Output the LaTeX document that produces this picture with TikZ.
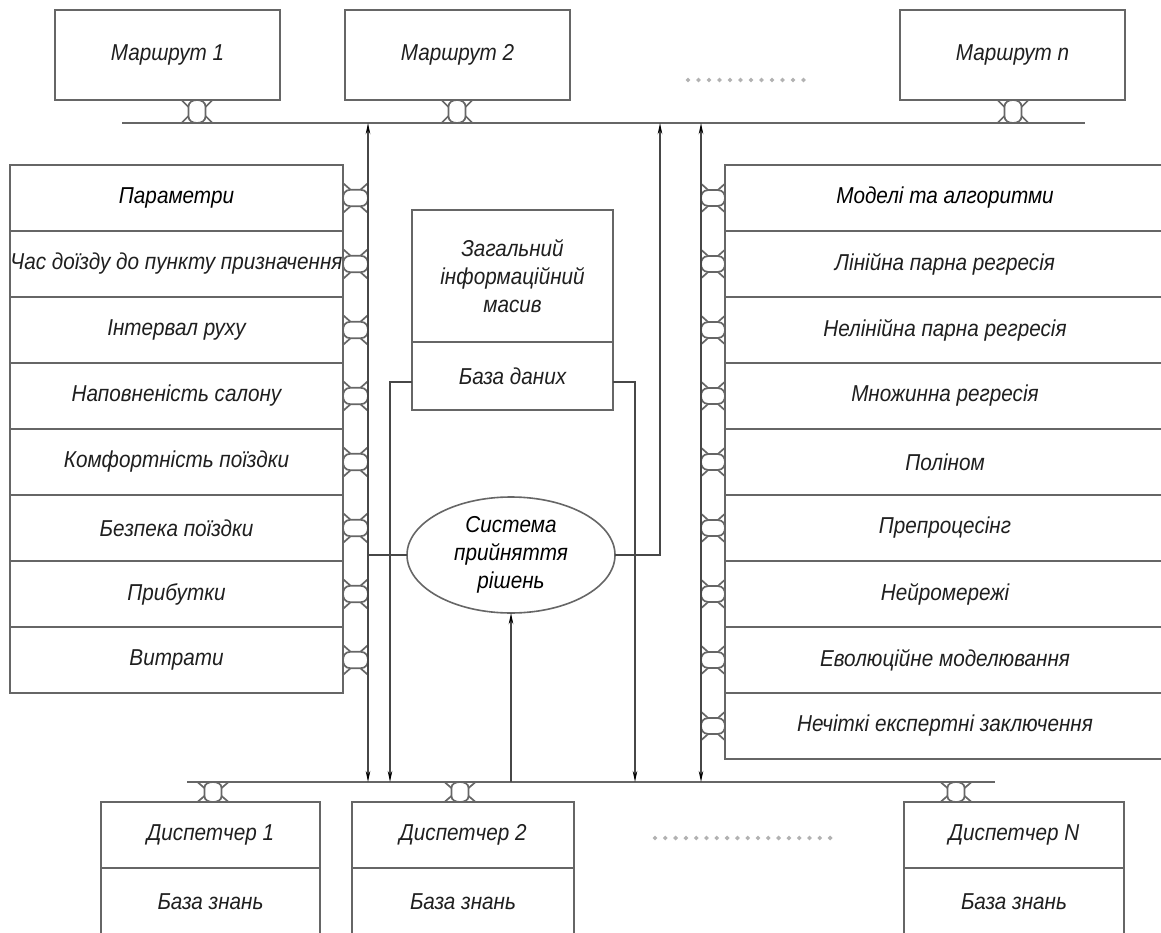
\documentclass[tikz,border=0pt]{standalone}
\usepackage{fontspec}
\setmainfont{Liberation Sans}[FakeStretch=0.9]
\usetikzlibrary{arrows.meta,positioning,shapes.geometric}
\tikzset{
  joint/.pic={
    \draw (-0.4,-0.66) -- (0.4,-0.66) .. controls (0.85,-0.66) and (1,-0.3) .. (1,0)
      .. controls (1,0.3) and (0.85,0.66) .. (0.4,0.66) -- (-0.4,0.66)
      .. controls (-0.85,0.66) and (-1,0.3) .. (-1,0) .. controls (-1,-0.3) and (-0.85,-0.66) .. (-0.4,-0.66);
    \draw (-0.4,-0.66) -- (-0.95,-1.15) (0.4,-0.66) -- (0.95,-1.15) (-0.4,0.66) -- (-0.95,1.15) (0.4,0.66) -- (0.95,1.15);
  }
}
\begin{document}
\begin{tikzpicture}[x=1pt,y=-1pt,
    font=\fontsize{23}{28}\selectfont\itshape,
    box/.style={draw=black!60,line width=2.4pt,text=black!88,inner sep=0pt,outer sep=0pt,align=center},
    bus/.style={draw=black!60,line width=2.4pt},
    sig/.style={draw=black!72,line width=1.6pt},
    tip/.style={-{Stealth[length=11pt,width=4.5pt,black]}},
    link/.style={draw=black!60,line width=1.7pt},
    dot/.style={diamond,fill=black!30,inner sep=0pt,minimum size=5pt}]
  \useasboundingbox (0,0) rectangle (1161,933);
  \node[box,minimum width=225pt,minimum height=90pt] (r1) at (167.5,55) {Маршрут 1};
  \node[box,minimum width=225pt,minimum height=90pt] (r2) at (457.5,55) {Маршрут 2};
  \node[box,minimum width=225pt,minimum height=90pt] (rn) at (1012.5,55) {Маршрут n};
  \foreach \x in {0,...,11} \node[dot] at (688+\x*10.5,80) {};
  \coordinate (bt1) at (122,123);
  \coordinate (bt2) at (1085,123);
  \draw[bus] (bt1) -- (bt2);
  \path[link] (197,111.5) pic[rotate=90,xscale=11.5,yscale=13] {joint}
              (457,111.5) pic[rotate=90,xscale=11.5,yscale=13] {joint}
              (1013,111.5) pic[rotate=90,xscale=11.5,yscale=13] {joint};

  \node[box,minimum width=333pt,minimum height=66pt,text=black] (p1) at (176.5,198) {Параметри};
  \foreach \txt [count=\i from 2] in {Час доїзду до пункту призначення,Інтервал руху,Наповненість салону,
      Комфортність поїздки,Безпека поїздки,Прибутки,Витрати}
    \node[box,minimum width=333pt,minimum height=66pt] (p\i) at (176.5,{132+66*\i}) {\txt};
  \foreach \i in {1,...,8} \path[link] (p\i.east) ++(12.5,0) pic[scale=12.5] {joint};

  \node[box,minimum width=440pt,minimum height=66pt,text=black] (m1) at (945,198) {Моделі та алгоритми};
  \foreach \txt [count=\i from 2] in {Лінійна парна регресія,Нелінійна парна регресія,Множинна регресія,
      Поліном,Препроцесінг,Нейромережі,Еволюційне моделювання,Нечіткі експертні заключення}
    \node[box,minimum width=440pt,minimum height=66pt] (m\i) at (945,{132+66*\i}) {\txt};
  \foreach \i in {1,...,9} \path[link] (m\i.west) ++(-12,0) pic[scale=12] {joint};

  \node[box,minimum width=201pt,minimum height=132pt] (info) at (512.5,276) {Загальний\\інформаційний\\масив};
  \node[box,minimum width=201pt,minimum height=68pt,below=0pt of info] (db) {База даних};
  \node[ellipse,draw=black!60,line width=1.6pt,text=black,align=center,inner sep=0pt,outer sep=0pt,
        minimum width=208pt,minimum height=116pt] (dps) at (511,555) {Система\\прийняття\\рішень};

  \coordinate (bb1) at (187,782);
  \coordinate (bb2) at (995,782);
  \draw[bus] (bb1) -- (bb2);
  \coordinate (xa) at (368,0);
  \coordinate (xb) at (390,0);
  \coordinate (xc) at (635,0);
  \coordinate (xd) at (660,0);
  \coordinate (xe) at (701,0);
  \draw[sig,{Stealth[length=11pt,width=4.5pt,black]}-{Stealth[length=11pt,width=4.5pt,black]}] (xa |- bt1) -- (xa |- bb1);
  \draw[sig,{Stealth[length=11pt,width=4.5pt,black]}-{Stealth[length=11pt,width=4.5pt,black]}] (xe |- bt1) -- (xe |- bb1);
  \draw[sig] (dps.west) -- (xa |- dps.west);
  \draw[sig,tip] ([yshift=-6pt]db.west) -| (xb |- bb1);
  \draw[sig,tip] ([yshift=-6pt]db.east) -| (xc |- bb1);
  \draw[sig,tip] (dps.east) -| (xd |- bt1);
  \draw[sig,tip] (dps.south |- bb1) -- (dps.south);

  \node[box,minimum width=219pt,minimum height=66pt] (d1) at (210.5,835) {Диспетчер 1};
  \node[box,minimum width=219pt,minimum height=68pt,below=0pt of d1] (k1) {База знань};
  \node[box,minimum width=222pt,minimum height=66pt] (d2) at (463,835) {Диспетчер 2};
  \node[box,minimum width=222pt,minimum height=68pt,below=0pt of d2] (k2) {База знань};
  \node[box,minimum width=220pt,minimum height=66pt] (dn) at (1014,835) {Диспетчер N};
  \node[box,minimum width=220pt,minimum height=68pt,below=0pt of dn] (kn) {База знань};
  \foreach \x in {0,...,17} \node[dot] at (655+\x*10.3,838) {};
  \path[link] (213,792) pic[rotate=90,xscale=10,yscale=13] {joint}
              (460,792) pic[rotate=90,xscale=10,yscale=13] {joint}
              (956,792) pic[rotate=90,xscale=10,yscale=13] {joint};
\end{tikzpicture}
\end{document}
